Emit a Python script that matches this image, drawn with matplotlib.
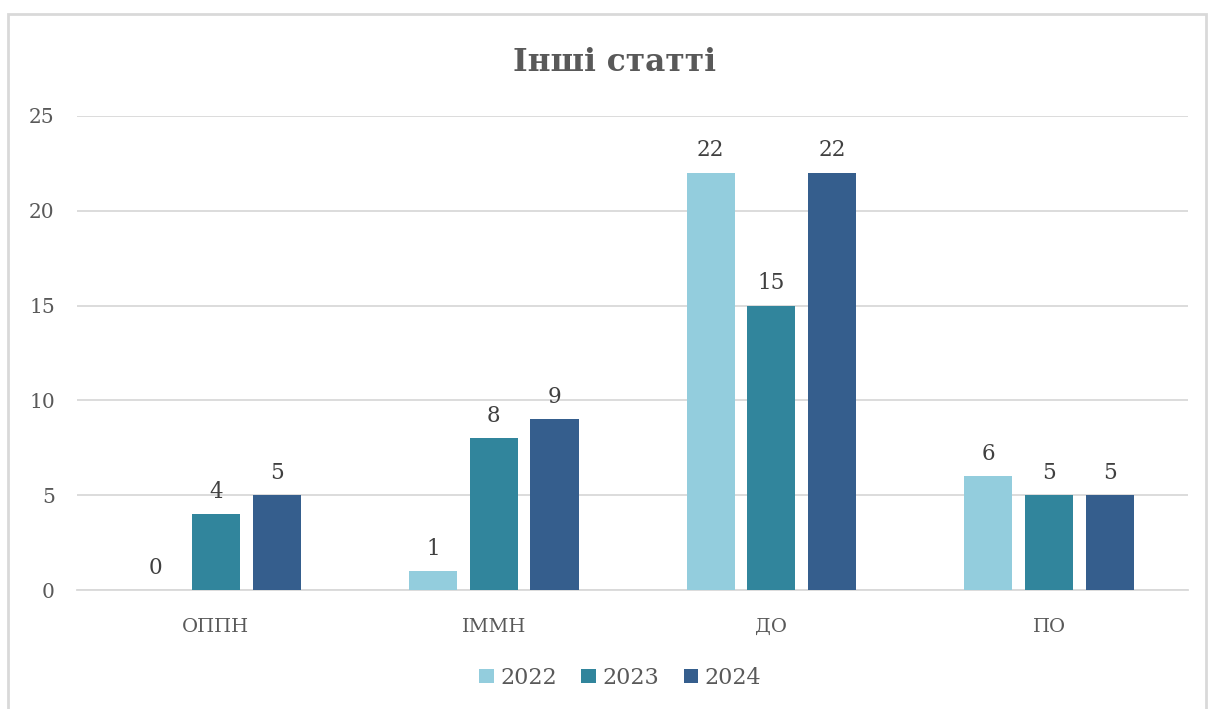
import matplotlib.pyplot as plt
import numpy as np
from matplotlib.patches import Rectangle

categories = ['ОППН', 'ІММН', 'ДО', 'ПО']
years = ['2022', '2023', '2024']
values_2022 = [0, 1, 22, 6]
values_2023 = [4, 8, 15, 5]
values_2024 = [5, 9, 22, 5]
colors = ['#93CDDD', '#31859C', '#355E8D']

plt.rcParams['font.family'] = ['DejaVu Serif']

fig = plt.figure(figsize=(12.09, 7.09), dpi=100)
ax = fig.add_axes([0.0637, 0.1678, 0.919, 0.6686])

# chart frame
fig.patches.append(Rectangle((8 / 1209, -0.05), 1198 / 1209, 1.05 - 14 / 709,
                             transform=fig.transFigure, fill=False,
                             edgecolor='#D9D9D9', linewidth=2))

x = np.arange(len(categories))
width = 0.173
step = 0.219
series = [values_2022, values_2023, values_2024]
for i, (vals, col, yr) in enumerate(zip(series, colors, years)):
    bars = ax.bar(x + (i - 1) * step, vals, width, color=col, label=yr, zorder=3)
    for b, v in zip(bars, vals):
        ax.text(b.get_x() + b.get_width() / 2, v + 0.6, str(v), ha='center', va='bottom',
                fontsize=15.5, color='#404040')

ax.set_xlim(-0.5, 3.5)
ax.set_ylim(0, 25)
ax.set_yticks(range(0, 26, 5))
ax.set_xticks(x)
ax.set_xticklabels(categories)
ax.grid(axis='y', color='#D9D9D9', linewidth=1.3, zorder=0)
for s in ['top', 'right', 'left']:
    ax.spines[s].set_visible(False)
ax.spines['bottom'].set_color('#D9D9D9')
ax.spines['bottom'].set_linewidth(1.3)
ax.tick_params(axis='y', length=0, labelsize=14.5, colors='#595959', pad=16)
ax.tick_params(axis='x', length=0, labelsize=14, colors='#595959', pad=20)

fig.text(0.508, 0.912, 'Інші статті', ha='center', va='center', fontsize=22.5,
         fontweight='bold', color='#595959')

leg = fig.legend(loc='center', bbox_to_anchor=(0.513, 0.044), ncol=3, frameon=False,
                 fontsize=16, handlelength=0.65, handleheight=0.65, handletextpad=0.3,
                 columnspacing=1.1)
for t in leg.get_texts():
    t.set_color('#595959')

plt.savefig('out.png')
